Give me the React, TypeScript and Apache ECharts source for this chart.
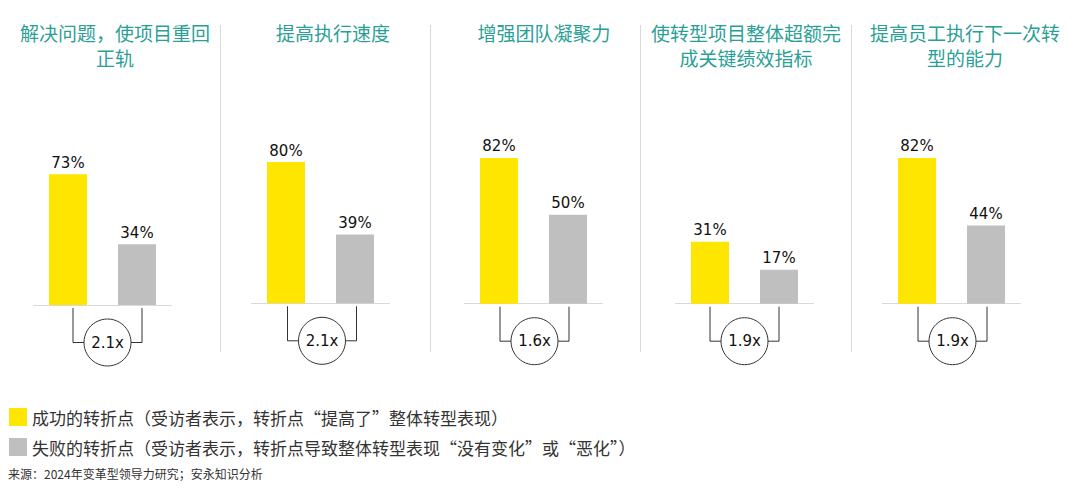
import React, { useEffect, useRef } from 'react';
import * as echarts from 'echarts';

// ---------- data ----------
const panelTitles = [
  ['解决问题，使项目重回', '正轨'],
  ['提高执行速度'],
  ['增强团队凝聚力'],
  ['使转型项目整体超额完', '成关键绩效指标'],
  ['提高员工执行下一次转', '型的能力'],
];
const categories = ['成功', '失败'];
const successValues = [73, 80, 82, 31, 82];
const failureValues = [34, 39, 50, 17, 44];
const multipliers = ['2.1x', '2.1x', '1.6x', '1.9x', '1.9x'];
const successName = '成功的转折点（受访者表示，转折点“提高了”整体转型表现）';
const failureName = '失败的转折点（受访者表示，转折点导致整体转型表现“没有变化”或“恶化”）';
const sourceText = '来源：2024年变革型领导力研究；安永知识分析';

// ---------- layout ----------
const gridLefts = [33.5, 251.5, 464.5, 675.5, 882.5];
const gridWidth = 138;
const baselines = [305, 303.3, 303.7, 303.7, 303.7];
const pxPerPct = [1.79, 1.766, 1.777, 1.995, 1.777];
const titleCenters = [115, 333, 544, 746, 965];
const bracketShift = [5, 1.5, 1, 0, 1];
const separatorXs = [220.5, 430.5, 640.5, 851.5];

const YELLOW = '#FFE600';
const GRAY = '#BFBFBF';
const TEAL = '#2b9f96';
const CJK = '"Noto Sans CJK SC", "Noto Sans", sans-serif';
const NUM = '"DejaVu Sans", Verdana, sans-serif';

export default function App() {
  const ref = useRef<HTMLDivElement>(null);
  useEffect(() => {
    if (!ref.current) return;
    const chart = echarts.init(ref.current, null, { renderer: 'svg' });

    const grids = gridLefts.map((l, i) => ({
      left: l,
      top: baselines[i] - 100 * pxPerPct[i],
      width: gridWidth,
      height: 100 * pxPerPct[i],
    }));
    const xAxes = gridLefts.map((_, i) => ({
      type: 'category',
      gridIndex: i,
      data: categories,
      axisLine: { show: true, lineStyle: { color: '#d9d9d9', width: 1 } },
      axisTick: { show: false },
      axisLabel: { show: false },
    }));
    const yAxes = gridLefts.map((_, i) => ({
      type: 'value',
      gridIndex: i,
      min: 0,
      max: 100,
      show: false,
      splitLine: { show: false },
    }));
    const label = {
      show: true,
      position: 'top',
      distance: 4,
      formatter: '{c}%',
      fontFamily: NUM,
      fontSize: 15,
      color: '#111',
    };
    const series: any[] = [];
    gridLefts.forEach((_, i) => {
      series.push({
        type: 'bar',
        name: successName,
        xAxisIndex: i,
        yAxisIndex: i,
        stack: 's' + i,
        barWidth: 38,
        itemStyle: { color: YELLOW },
        label,
        data: [successValues[i], '-'],
      });
      series.push({
        type: 'bar',
        name: failureName,
        xAxisIndex: i,
        yAxisIndex: i,
        stack: 's' + i,
        barWidth: 38,
        itemStyle: { color: GRAY },
        label,
        data: ['-', failureValues[i]],
      });
    });

    chart.setOption({
      animation: false,
      backgroundColor: '#ffffff',
      grid: grids,
      xAxis: xAxes,
      yAxis: yAxes,
      series,
      legend: {
        data: [successName, failureName],
        orient: 'vertical',
        left: 9,
        top: 408,
        itemWidth: 18,
        itemHeight: 18,
        itemGap: 12,
        icon: 'rect',
        selectedMode: false,
        padding: 0,
        textStyle: { fontFamily: CJK, fontSize: 17, color: '#333333' },
      },
    });

    const graphics: any[] = [];
    separatorXs.forEach((x) => {
      graphics.push({
        type: 'line',
        shape: { x1: x, y1: 25, x2: x, y2: 352 },
        style: { stroke: '#d9d9d9', lineWidth: 1 },
        silent: true,
      });
    });
    panelTitles.forEach((lines, i) => {
      lines.forEach((t, j) => {
        graphics.push({
          type: 'text',
          x: titleCenters[i],
          y: 32.5 + j * 25,
          style: {
            text: t,
            fill: TEAL,
            fontFamily: CJK,
            fontSize: 19,
            lineHeight: 22,
            align: 'center',
            verticalAlign: 'middle',
          },
        });
      });
    });
    const r = 23.5;
    gridLefts.forEach((_, i) => {
      const p1 = chart.convertToPixel({ gridIndex: i }, [categories[0], 0]) as number[];
      const p2 = chart.convertToPixel({ gridIndex: i }, [categories[1], 0]) as number[];
      const x1 = p1[0] + bracketShift[i];
      const x2 = p2[0] + bracketShift[i];
      const base = p1[1];
      const cx = (x1 + x2) / 2;
      const cy = base + 37.5;
      graphics.push({
        type: 'polyline',
        shape: { points: [[x1, base + 3], [x1, cy], [cx - r, cy]] },
        style: { stroke: '#333', lineWidth: 1, fill: 'none' },
      });
      graphics.push({
        type: 'polyline',
        shape: { points: [[x2, base + 3], [x2, cy], [cx + r, cy]] },
        style: { stroke: '#333', lineWidth: 1, fill: 'none' },
      });
      graphics.push({
        type: 'circle',
        shape: { cx, cy, r },
        style: { stroke: '#333', lineWidth: 1, fill: '#ffffff' },
      });
      graphics.push({
        type: 'text',
        x: cx,
        y: cy,
        style: {
          text: multipliers[i],
          fill: '#111',
          fontFamily: NUM,
          fontSize: 15,
          align: 'center',
          verticalAlign: 'middle',
        },
      });
    });
    graphics.push({
      type: 'text',
      x: 8,
      y: 473,
      style: {
        text: sourceText,
        fill: '#333333',
        fontFamily: CJK,
        fontSize: 12,
        align: 'left',
        verticalAlign: 'middle',
      },
    });
    chart.setOption({ graphic: graphics });

    return () => chart.dispose();
  }, []);
  return (
    <div
      ref={ref}
      style={{ position: 'absolute', left: 0, top: 0, width: 1074, height: 500, background: '#fff' }}
    />
  );
}
